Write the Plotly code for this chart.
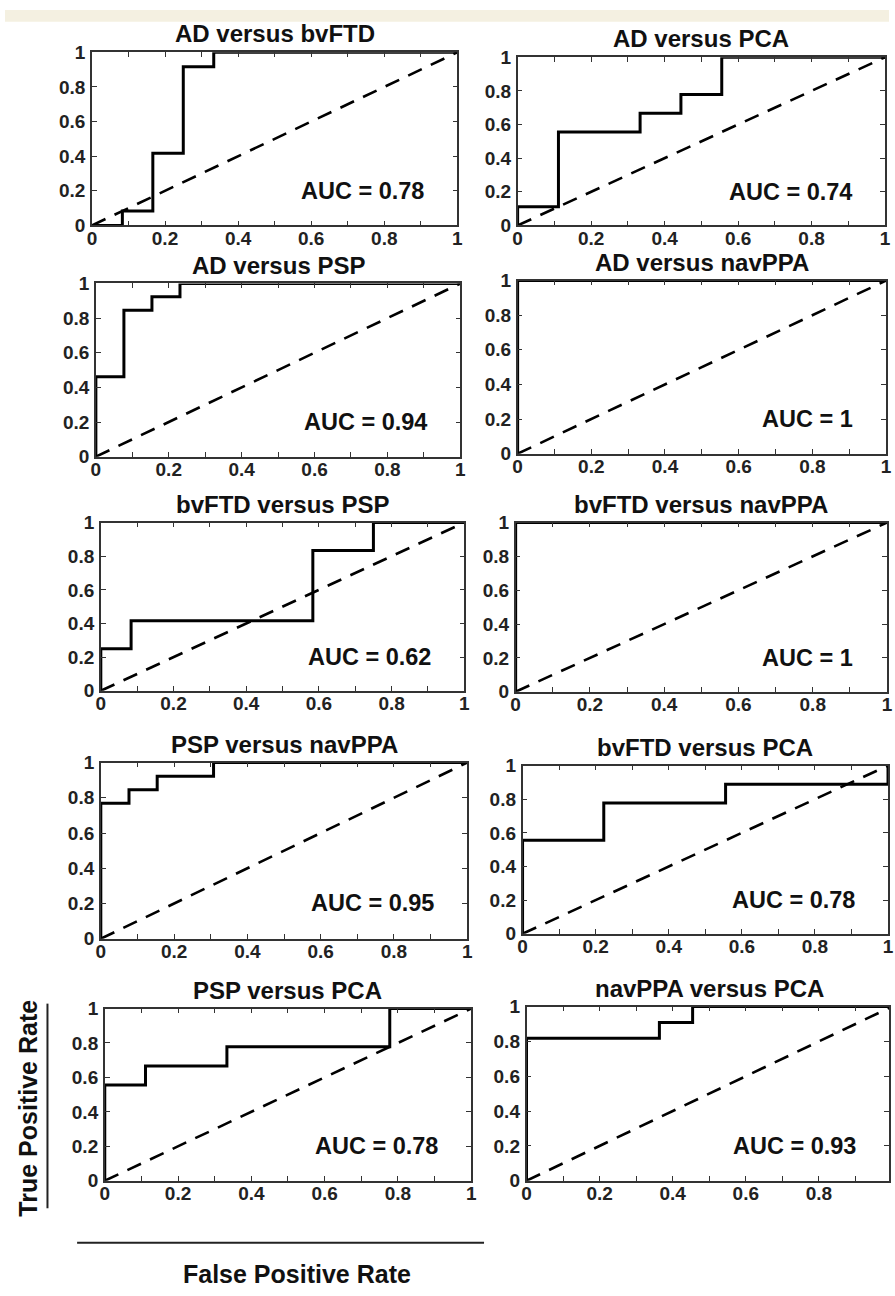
import plotly.graph_objects as go

W, H = 895, 1296

titles = ["AD versus bvFTD", "AD versus PCA", "AD versus PSP", "AD versus navPPA",
          "bvFTD versus PSP", "bvFTD versus navPPA", "PSP versus navPPA", "bvFTD versus PCA",
          "PSP versus PCA", "navPPA versus PCA"]
auc_labels = ["AUC = 0.78", "AUC = 0.74", "AUC = 0.94", "AUC = 1", "AUC = 0.62",
              "AUC = 1", "AUC = 0.95", "AUC = 0.78", "AUC = 0.78", "AUC = 0.93"]

# ROC curves (false positive rate, true positive rate)
fpr_ad_bvftd = [0, 1/12, 1/12, 2/12, 2/12, 3/12, 3/12, 4/12, 4/12, 1]
tpr_ad_bvftd = [0, 0, 1/12, 1/12, 5/12, 5/12, 11/12, 11/12, 1, 1]
fpr_ad_pca = [0, 0, 1/9, 1/9, 3/9, 3/9, 4/9, 4/9, 5/9, 5/9, 1]
tpr_ad_pca = [0, 1/9, 1/9, 5/9, 5/9, 6/9, 6/9, 7/9, 7/9, 1, 1]
fpr_ad_psp = [0, 0, 1/13, 1/13, 2/13, 2/13, 3/13, 3/13, 1]
tpr_ad_psp = [0, 6/13, 6/13, 11/13, 11/13, 12/13, 12/13, 1, 1]
fpr_ad_navppa = [0, 0, 1]
tpr_ad_navppa = [0, 1, 1]
fpr_bvftd_psp = [0, 0, 1/12, 1/12, 7/12, 7/12, 9/12, 9/12, 1]
tpr_bvftd_psp = [0, 3/12, 3/12, 5/12, 5/12, 10/12, 10/12, 1, 1]
fpr_bvftd_navppa = [0, 0, 1]
tpr_bvftd_navppa = [0, 1, 1]
fpr_psp_navppa = [0, 0, 1/13, 1/13, 2/13, 2/13, 4/13, 4/13, 1]
tpr_psp_navppa = [0, 10/13, 10/13, 11/13, 11/13, 12/13, 12/13, 1, 1]
fpr_bvftd_pca = [0, 0, 2/9, 2/9, 5/9, 5/9, 1, 1]
tpr_bvftd_pca = [0, 5/9, 5/9, 7/9, 7/9, 8/9, 8/9, 1]
fpr_psp_pca = [0, 0, 1/9, 1/9, 3/9, 3/9, 7/9, 7/9, 1]
tpr_psp_pca = [0, 5/9, 5/9, 6/9, 6/9, 7/9, 7/9, 1, 1]
fpr_navppa_pca = [0, 0, 4/11, 4/11, 5/11, 5/11, 1]
tpr_navppa_pca = [0, 9/11, 9/11, 10/11, 10/11, 1, 1]

fprs = [fpr_ad_bvftd, fpr_ad_pca, fpr_ad_psp, fpr_ad_navppa, fpr_bvftd_psp,
        fpr_bvftd_navppa, fpr_psp_navppa, fpr_bvftd_pca, fpr_psp_pca, fpr_navppa_pca]
tprs = [tpr_ad_bvftd, tpr_ad_pca, tpr_ad_psp, tpr_ad_navppa, tpr_bvftd_psp,
        tpr_bvftd_navppa, tpr_psp_navppa, tpr_bvftd_pca, tpr_psp_pca, tpr_navppa_pca]

chance_line = [0, 1]

x_tick_vals = [0, 0.1, 0.2, 0.3, 0.4, 0.5, 0.6, 0.7, 0.8, 0.9, 1]
x_tick_text = ["0", "", "0.2", "", "0.4", "", "0.6", "", "0.8", "", "1"]
y_tick_vals = [0, 0.2, 0.4, 0.6, 0.8, 1]
y_tick_text = ["0", "0.2", "0.4", "0.6", "0.8", "1"]

# panel boxes in pixels: left, right, top, bottom
boxes = [
    (88, 458, 43, 219), (519, 891, 48, 219),
    (92, 461, 278, 454), (519, 892, 275, 451),
    (97, 465, 521, 692), (517, 893, 521, 693),
    (97, 468, 765, 944), (524, 894, 768, 939),
    (101, 472, 1015, 1190), (528, 898, 1013, 1190),
]

FONT = "Liberation Sans, Arial, sans-serif"
fig = go.Figure()
annotations = []
shapes = []

def px_x(v):
    return v / W

def px_y(v):
    return 1 - v / H

for i, (l, r, t, b) in enumerate(boxes):
    n = i + 1
    xa = "x" if n == 1 else f"x{n}"
    ya = "y" if n == 1 else f"y{n}"
    fig.add_trace(go.Scatter(x=chance_line, y=chance_line, mode="lines",
                             line=dict(color="black", width=2.6, dash="15px,10px"),
                             xaxis=xa, yaxis=ya, showlegend=False, cliponaxis=False,
                             hoverinfo="skip"))
    fig.add_trace(go.Scatter(x=fprs[i], y=tprs[i], mode="lines",
                             line=dict(color="black", width=3),
                             xaxis=xa, yaxis=ya, showlegend=False, cliponaxis=False))
    axcommon = dict(showgrid=False, zeroline=False, showline=True, linecolor="#333",
                    linewidth=1.5, mirror="ticks", ticks="inside", ticklen=5,
                    tickcolor="#333", tickwidth=1.2,
                    tickfont=dict(family=FONT, size=19, color="#222", weight="bold"),
                    fixedrange=True)
    if r > W:
        xdom = [px_x(l), 1.0]
        xrange = [0, (W - l) / (r - l)]
    else:
        xdom = [px_x(l), px_x(r)]
        xrange = [0, 1]
    xd = dict(axcommon, domain=xdom, range=xrange, anchor=ya,
              tickmode="array", tickvals=x_tick_vals, ticktext=x_tick_text,
              ticklabelstandoff=-5)
    yd = dict(axcommon, domain=[px_y(b), px_y(t)], range=[0, 1], anchor=xa,
              tickmode="array", tickvals=y_tick_vals, ticktext=y_tick_text,
              ticklabelstandoff=1)
    key = "" if n == 1 else str(n)
    fig.update_layout(**{f"xaxis{key}": xd, f"yaxis{key}": yd})
    # title
    annotations.append(dict(text=titles[i], xref="paper", yref="paper",
                            x=px_x((l + r) / 2), y=px_y(t - 3), xanchor="center",
                            yanchor="bottom", showarrow=False,
                            font=dict(family=FONT, size=24, color="#111", weight="bold")))
    annotations.append(dict(text=auc_labels[i], xref=f"{xa} domain", yref=f"{ya} domain",
                            x=0.915, y=0.2, xanchor="right", yanchor="middle",
                            showarrow=False,
                            font=dict(family=FONT, size=23.5, color="#111", weight="bold")))

annotations.append(dict(text="True Positive Rate", xref="paper", yref="paper",
                        x=px_x(23), y=px_y(1116), textangle=-90, showarrow=False,
                        xanchor="center", yanchor="middle",
                        font=dict(family=FONT, size=25, color="#111", weight="bold")))
annotations.append(dict(text="False Positive Rate", xref="paper", yref="paper",
                        x=px_x(296), y=px_y(1285), showarrow=False,
                        xanchor="center", yanchor="middle",
                        font=dict(family=FONT, size=25, color="#111", weight="bold")))

shapes.append(dict(type="line", xref="paper", yref="paper",
                   x0=px_x(43), x1=px_x(43), y0=px_y(1010), y1=px_y(1218),
                   line=dict(color="#222", width=2)))
shapes.append(dict(type="line", xref="paper", yref="paper",
                   x0=px_x(73), x1=px_x(485), y0=px_y(1253), y1=px_y(1253),
                   line=dict(color="#222", width=2)))
shapes.append(dict(type="rect", xref="paper", yref="paper",
                   x0=0, x1=1, y0=px_y(12), y1=1, fillcolor="#f4f0e1",
                   line=dict(width=0), layer="below"))

fig.update_layout(width=W, height=H, margin=dict(l=0, r=0, t=0, b=0),
                  paper_bgcolor="white", plot_bgcolor="white",
                  annotations=annotations, shapes=shapes, showlegend=False)

fig.write_html("out.html", config={"displayModeBar": False},
               post_script="document.body.style.margin='0';document.body.style.overflow='hidden';")
